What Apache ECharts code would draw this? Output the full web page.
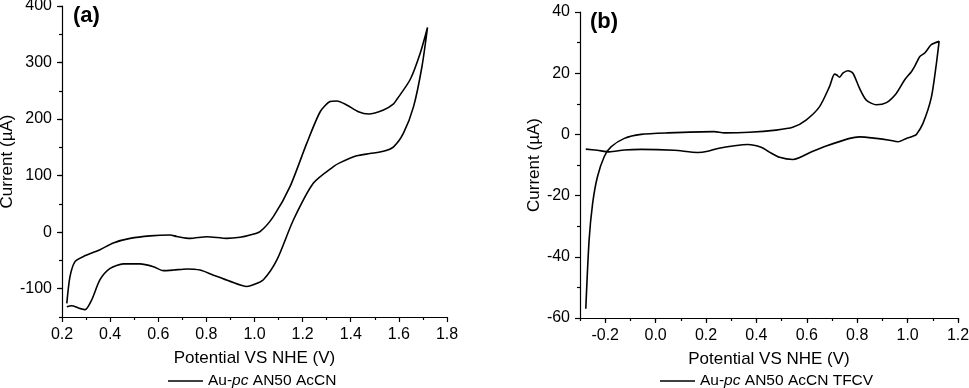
<!DOCTYPE html>
<html>
<head>
<meta charset="utf-8">
<script src="https://cdn.jsdelivr.net/npm/echarts@6/dist/echarts.min.js"></script>
<style>
  html, body { margin: 0; padding: 0; background: #fff; }
  #chart { width: 969px; height: 388px; }
</style>
</head>
<body>
<div id="chart"></div>
<script>
// panel (a): [potential V, current uA]
var aForward = [
  [0.220, -126], [0.233, -79], [0.254, -52], [0.289, -43], [0.358, -31],
  [0.413, -19], [0.483, -11], [0.566, -6.5], [0.649, -5], [0.677, -7.5],
  [0.732, -11], [0.802, -8], [0.885, -11], [0.940, -9], [0.982, -5],
  [1.023, 1], [1.079, 28], [1.148, 81], [1.217, 157], [1.273, 213],
  [1.314, 231], [1.342, 232], [1.383, 225], [1.432, 213], [1.474, 209],
  [1.536, 216], [1.578, 227], [1.592, 235], [1.647, 270], [1.689, 317],
  [1.719, 362]
];
var aReverse = [
  [1.696, 293], [1.661, 222], [1.619, 175], [1.578, 151], [1.536, 143],
  [1.479, 139], [1.425, 135], [1.356, 123], [1.328, 116], [1.245, 87],
  [1.162, 22], [1.093, -49], [1.037, -84], [0.995, -93], [0.968, -96],
  [0.899, -87], [0.829, -76], [0.774, -67], [0.718, -65], [0.663, -67],
  [0.621, -68], [0.580, -61], [0.524, -56], [0.455, -56], [0.400, -64],
  [0.358, -84], [0.323, -120], [0.296, -137], [0.268, -134], [0.240, -130],
  [0.220, -132]
];

// panel (b)
var bForward = [
  [-0.277, -57], [-0.264, -34.7], [-0.250, -22.6], [-0.231, -13.9], [-0.204, -7.3],
  [-0.177, -4.1], [-0.124, -1.3], [-0.058, 0], [0.048, 0.5], [0.233, 0.9],
  [0.273, 0.5], [0.372, 0.7], [0.478, 1.4], [0.544, 2.3], [0.597, 4.7],
  [0.650, 9], [0.690, 15.6], [0.710, 19.7], [0.719, 19.4], [0.730, 18.7],
  [0.743, 20], [0.763, 20.8], [0.783, 20], [0.809, 15.1], [0.836, 11.2],
  [0.876, 9.7], [0.916, 10.4], [0.955, 13.4], [0.988, 17.8], [1.015, 20.5],
  [1.028, 22.2], [1.048, 25.4], [1.068, 26.6], [1.094, 29.3], [1.125, 30.4]
];
var bReverse = [
  [1.114, 23], [1.094, 12], [1.061, 3.6], [1.035, 0], [1.021, -0.6],
  [0.995, -1.3], [0.962, -2.4], [0.929, -1.9], [0.876, -1.3], [0.809, -0.8],
  [0.770, -1.3], [0.677, -3.8], [0.624, -5.5], [0.545, -8.2], [0.492, -7.5],
  [0.452, -5.8], [0.419, -4.2], [0.366, -3.3], [0.313, -3.7], [0.247, -4.6],
  [0.207, -5.5], [0.167, -5.9], [0.074, -5.2], [-0.058, -4.9], [-0.124, -5.1],
  [-0.184, -5.7], [-0.231, -5.2], [-0.277, -4.8]
];

var aMajorY = [-100, 0, 100, 200, 300, 400];
var bMajorX = [-0.2, 0, 0.2, 0.4, 0.6, 0.8, 1.0, 1.2];

var font = 'Liberation Sans, Arial, sans-serif';
var black = '#000';

function axisBase() {
  return {
    type: 'value',
    axisLine: { show: true, onZero: false, lineStyle: { color: black, width: 1.2 } },
    axisTick: { show: true, inside: false, length: 5, lineStyle: { color: black, width: 1.2 } },
    minorTick: { show: true, splitNumber: 2, length: 3, lineStyle: { color: black, width: 1.2 } },
    axisLabel: { color: black, fontFamily: font, fontSize: 16, margin: 10 },
    splitLine: { show: false },
    nameLocation: 'middle',
    nameTextStyle: { color: black, fontFamily: font, fontSize: 17 }
  };
}

// extra axis that only draws the long (major) ticks
function majorTicks(grid, pos, min, max, values) {
  return {
    type: 'value', gridIndex: grid, position: pos, min: min, max: max,
    axisLine: { show: false, onZero: false },
    axisLabel: { show: false },
    splitLine: { show: false },
    axisTick: { show: true, length: 5, customValues: values, lineStyle: { color: black, width: 1.2 } }
  };
}

function legendText(name) {
  var rest = name === 'a' ? ' AN50 AcCN' : ' AN50 AcCN TFCV';
  return '{n|Au-}{i|pc}{n|' + rest + '}';
}

var legendStyle = {
  fontFamily: font, fontSize: 15.5, color: black,
  rich: {
    n: { fontFamily: font, fontSize: 15.5, color: black },
    i: { fontFamily: font, fontSize: 15.5, color: black, fontStyle: 'italic' }
  }
};

var chart = echarts.init(document.getElementById('chart'));

chart.setOption({
  animation: false,
  backgroundColor: '#fff',
  grid: [
    { left: 62, top: 6, right: 522, bottom: 71, outerBoundsMode: 'none' },
    { left: 580, top: 12, right: 11, bottom: 70, outerBoundsMode: 'none' }
  ],
  xAxis: [
    Object.assign(axisBase(), {
      gridIndex: 0, position: 'bottom', min: 0.2, max: 1.8, interval: 0.2,
      name: 'Potential VS NHE (V)', nameGap: 33,
      axisLabel: Object.assign(axisBase().axisLabel, {
        formatter: function (v) { return v.toFixed(1); }
      })
    }),
    Object.assign(axisBase(), {
      gridIndex: 1, position: 'bottom', min: -0.3, max: 1.2, interval: 0.1,
      name: 'Potential VS NHE (V)', nameGap: 33,
      axisTick: { show: true, length: 3, lineStyle: { color: black, width: 1.2 } },
      minorTick: { show: false },
      axisLabel: Object.assign(axisBase().axisLabel, {
        customValues: bMajorX,
        formatter: function (v) { return v.toFixed(1); }
      })
    }),
    majorTicks(1, 'bottom', -0.3, 1.2, bMajorX)
  ],
  yAxis: [
    Object.assign(axisBase(), {
      gridIndex: 0, position: 'left', min: -150, max: 400, interval: 50,
      name: 'Current (\u00b5A)', nameGap: 46,
      axisTick: { show: true, length: 3, lineStyle: { color: black, width: 1.2 } },
      minorTick: { show: false },
      axisLabel: Object.assign(axisBase().axisLabel, { customValues: aMajorY })
    }),
    majorTicks(0, 'left', -150, 400, aMajorY),
    Object.assign(axisBase(), {
      gridIndex: 1, position: 'left', min: -60, max: 40, interval: 20,
      name: 'Current (\u00b5A)', nameGap: 37
    })
  ],
  legend: [
    {
      data: ['a'], left: 168, top: 373, padding: 0, icon: 'rect',
      itemWidth: 35, itemHeight: 1.5, itemGap: 5,
      formatter: legendText, textStyle: legendStyle
    },
    {
      data: ['b'], left: 660, top: 373, padding: 0, icon: 'rect',
      itemWidth: 35, itemHeight: 1.5, itemGap: 5,
      formatter: legendText, textStyle: legendStyle
    }
  ],
  graphic: [
    { type: 'text', left: 73, top: 5, style: { text: '(a)', font: 'bold 22px ' + font, fill: black } },
    { type: 'text', left: 590, top: 11, style: { text: '(b)', font: 'bold 22px ' + font, fill: black } }
  ],
  series: [
    {
      name: 'a', type: 'line', xAxisIndex: 0, yAxisIndex: 0,
      data: aForward.concat(aReverse),
      symbol: 'none', smooth: 0.25,
      lineStyle: { color: black, width: 1.6 }, itemStyle: { color: black }
    },
    {
      name: 'b', type: 'line', xAxisIndex: 1, yAxisIndex: 2,
      data: bForward.concat(bReverse),
      symbol: 'none', smooth: 0.25,
      lineStyle: { color: black, width: 1.6 }, itemStyle: { color: black }
    }
  ]
});
</script>
</body>
</html>
